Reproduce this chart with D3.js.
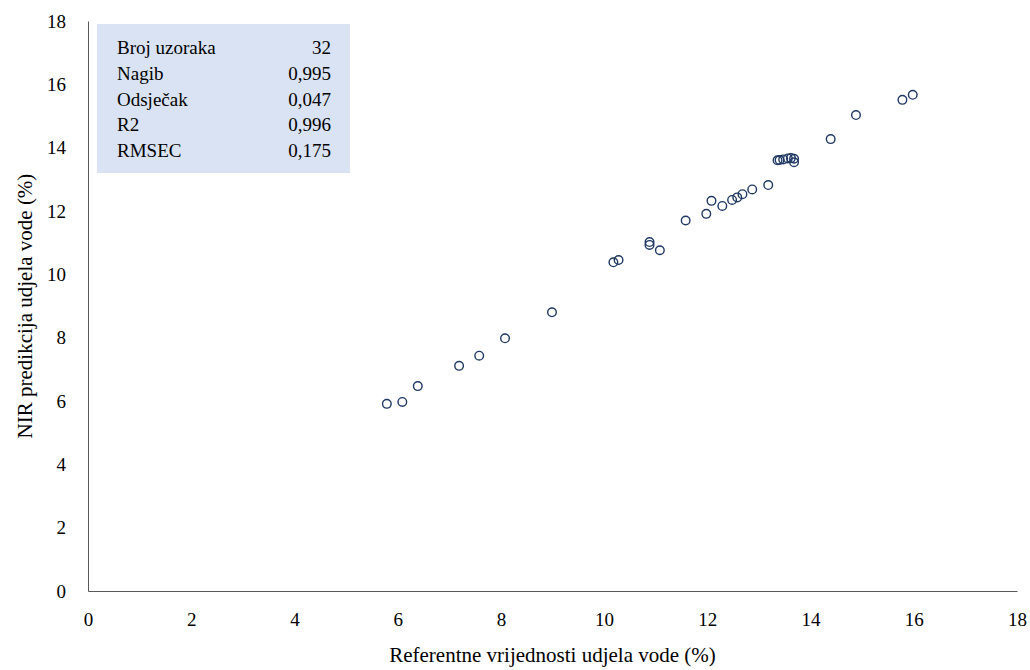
<!DOCTYPE html>
<html>
<head>
<meta charset="utf-8">
<script src="https://cdn.jsdelivr.net/npm/d3@7"></script>
<style>
  body { margin: 0; background: #fff; }
  svg { display: block; }
</style>
</head>
<body>
<svg id="chart" width="1030" height="670"></svg>
<script>
// Data
const refValues = [5.79, 6.09, 6.39, 7.19, 7.58, 8.08, 8.99,
  10.18, 10.28, 10.88, 10.88, 11.08, 11.58, 11.98, 12.08, 12.29, 12.48, 12.58, 12.68, 12.87, 13.18,
  13.36, 13.40, 13.47, 13.56, 13.62, 13.68, 13.68, 14.39, 14.88, 15.78, 15.98];
const nirValues = [5.91, 5.97, 6.47, 7.11, 7.43, 7.98, 8.80,
  10.38, 10.45, 11.02, 10.93, 10.76, 11.70, 11.91, 12.32, 12.16, 12.35, 12.43, 12.53, 12.68, 12.82,
  13.60, 13.61, 13.63, 13.66, 13.67, 13.65, 13.54, 14.27, 15.03, 15.51, 15.67];
const xTicks = [0, 2, 4, 6, 8, 10, 12, 14, 16, 18];
const yTicks = [0, 2, 4, 6, 8, 10, 12, 14, 16, 18];
const statLabels = ["Broj uzoraka", "Nagib", "Odsječak", "R2", "RMSEC"];
const statValues = ["32", "0,995", "0,047", "0,996", "0,175"];
const xTitle = "Referentne vrijednosti udjela vode (%)";
const yTitle = "NIR predikcija udjela vode (%)";

(function () {
const FONT = "Liberation Serif";
const svg = d3.select("#chart").style("font-family", FONT);
const mL = 88, mR = 1017, mT = 21, mB = 591;

const x = d3.scaleLinear().domain([0, 18]).range([mL, mR]);
const y = d3.scaleLinear().domain([0, 18]).range([mB, mT]);

const xAxis = d3.axisBottom(x).tickValues(xTicks).tickSize(0).tickPadding(0).tickFormat(d3.format("d"));
const yAxis = d3.axisLeft(y).tickValues(yTicks).tickSize(0).tickPadding(0).tickFormat(d3.format("d"));

const gx = svg.append("g").attr("transform", `translate(0,${mB})`).call(xAxis)
  .attr("font-family", null).attr("font-size", 19);
gx.select(".domain").attr("stroke", "#595959").attr("stroke-width", 1);
gx.selectAll("text").attr("fill", "#000").attr("dy", null).attr("y", 35).style("font-family", FONT);

const gy = svg.append("g").attr("transform", `translate(${mL},0)`).call(yAxis)
  .attr("font-family", null).attr("font-size", 19);
gy.select(".domain").attr("stroke", "#595959").attr("stroke-width", 1);
gy.selectAll("text").attr("fill", "#000").attr("x", -22).attr("dy", "0.33em").style("font-family", FONT);

svg.append("text").attr("x", (mL + mR) / 2).attr("y", 662).style("font-family", FONT)
  .attr("text-anchor", "middle").attr("font-size", 21).text(xTitle);
svg.append("text").attr("transform", `translate(32,${(mT + mB) / 2}) rotate(-90)`).style("font-family", FONT)
  .attr("text-anchor", "middle").attr("font-size", 21).text(yTitle);

const boxX = 97, boxY = 24, boxW = 253, boxH = 149;
svg.append("rect").attr("x", boxX).attr("y", boxY).attr("width", boxW).attr("height", boxH)
  .attr("fill", "#dae3f3");
const rowY = d3.scalePoint().domain(statLabels).range([54, 157]);
svg.append("g").selectAll("text").data(statLabels).join("text").style("font-family", FONT)
  .attr("x", 117).attr("y", d => rowY(d)).attr("font-size", 19).text(d => d);
svg.append("g").selectAll("text").data(statValues).join("text").style("font-family", FONT)
  .attr("x", 331).attr("y", (d, i) => rowY(statLabels[i])).attr("text-anchor", "end")
  .attr("font-size", 19).text(d => d);

const pts = refValues.map((v, i) => ({ x: v, y: nirValues[i] }));
svg.append("g").selectAll("circle").data(pts).join("circle")
  .attr("cx", d => x(d.x)).attr("cy", d => y(d.y)).attr("r", 4.3)
  .attr("fill", "none").attr("stroke", "#203864").attr("stroke-width", 1.4);
})();
</script>
</body>
</html>
